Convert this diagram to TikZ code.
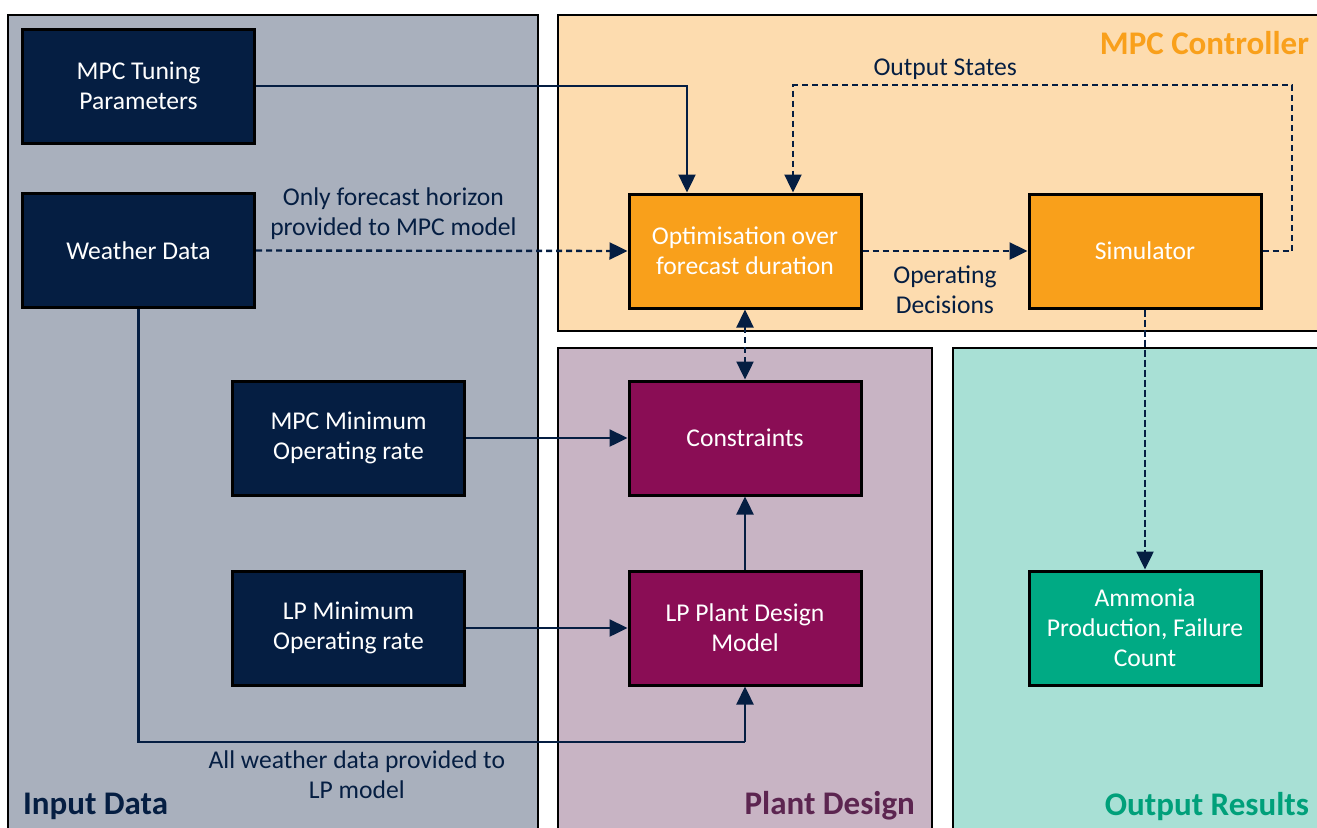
\documentclass[tikz,border=0pt]{standalone}
\usepackage{fontspec}
\setmainfont{Carlito}
\usepackage{tikz}
\usetikzlibrary{arrows.meta}
\definecolor{inputgrey}{RGB}{169,176,189}
\definecolor{navy}{RGB}{5,30,66}
\definecolor{mpcpeach}{RGB}{253,220,175}
\definecolor{mpcorange}{RGB}{249,160,27}
\definecolor{plantmauve}{RGB}{200,180,196}
\definecolor{plantpurple}{RGB}{138,13,85}
\definecolor{planttitle}{RGB}{92,37,80}
\definecolor{outmint}{RGB}{168,224,213}
\definecolor{outgreen}{RGB}{0,170,132}
\definecolor{outtitle}{RGB}{0,160,122}
\tikzset{
  block/.style={draw=black,line width=1.5pt,minimum width=116pt,minimum height=57pt,
    text=white,align=center,font=\fontsize{12.8}{15}\selectfont},
  panel/.style={draw=black,line width=1pt},
  paneltitle/.style={font=\fontsize{16.5}{19}\selectfont\bfseries},
  lbl/.style={text=navy,align=center,font=\fontsize{12.8}{15}\selectfont,inner sep=2pt},
  link/.style={navy,line width=1.2pt,-{Triangle[length=9pt,width=8.5pt]}},
  dlink/.style={link,dash pattern=on 3pt off 2pt}
}

\begin{document}
\begin{tikzpicture}[x=0.5pt,y=-0.5pt]
  \useasboundingbox (0,0) rectangle (1317,827);
  \clip (0,0) rectangle (1317,827);
  % panels
  \draw[panel,fill=inputgrey](8,15)rectangle(538,840);
  \draw[panel,fill=mpcpeach](558,15)rectangle(1330,331);
  \draw[panel,fill=plantmauve](558,348)rectangle(932,840);
  \draw[panel,fill=outmint](953,348)rectangle(1330,840);
  \node[paneltitle,text=navy,anchor=west] (tinput) at (16,806) {Input Data};
  \node[paneltitle,text=mpcorange,anchor=east] (tmpc) at (1316,43) {MPC Controller};
  \node[paneltitle,text=planttitle,anchor=east] (tplant) at (922,806) {Plant Design};
  \node[paneltitle,text=outtitle,anchor=east] (tout) at (1316,806) {Output Results};
  % blocks
  \node[block,fill=navy] (tune) at (138.5,86) {MPC Tuning\\Parameters};
  \node[block,fill=navy] (weather) at (138.5,250.5) {Weather Data};
  \node[block,fill=navy] (mpcmin) at (348.5,438) {MPC Minimum\\Operating rate};
  \node[block,fill=navy] (lpmin) at (348.5,628) {LP Minimum\\Operating rate};
  \node[block,fill=mpcorange] (opt) at (745,251) {Optimisation over\\forecast duration};
  \node[block,fill=mpcorange] (sim) at (1145,251) {Simulator};
  \node[block,fill=plantpurple] (cons) at (745,438) {Constraints};
  \node[block,fill=plantpurple] (lpmodel) at (745,628) {LP Plant Design\\Model};
  \node[block,fill=outgreen] (nh3) at (1145,628) {Ammonia\\Production, Failure\\Count};
  \coordinate (loopR) at (1292,85);
  \coordinate (loopL) at (793,85);
  \coordinate (wcorner) at (745,742);
  % connectors
  \draw[link] (tune.east) -| ([xshift=-29pt]opt.north);
  \draw[dlink] (weather.east) -- node[lbl,above=3pt,pos=0.37] {Only forecast horizon\\provided to MPC model} (opt.west);
  \draw[dlink] (opt.east) -- node[lbl,below=5pt] {Operating\\Decisions} (sim.west);
  \draw[dlink] (sim.east) -| (loopR) -- node[lbl,above,pos=0.695] {Output States} (loopL) -- (loopL |- opt.north);
  \draw[dlink,{Triangle[length=9pt,width=8.5pt]}-{Triangle[length=9pt,width=8.5pt]}] (opt.south) -- (cons.north);
  \draw[link,dash pattern=on 3.5pt off 1.5pt] (sim.south) -- (nh3.north);
  \draw[link] (mpcmin.east) -- (cons.west);
  \draw[link] (lpmin.east) -- (lpmodel.west);
  \draw[link] (lpmodel.north) -- (cons.south);
  \draw[link,-] (weather.south) |- node[lbl,below=2pt,pos=0.68] {All weather data provided to\\LP model} (wcorner);
  \draw[link] (wcorner) -- (lpmodel.south);
\end{tikzpicture}
\end{document}
